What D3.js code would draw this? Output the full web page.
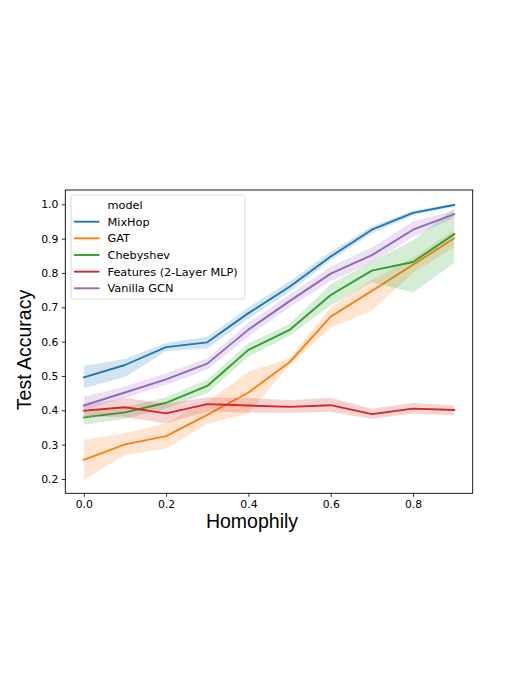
<!DOCTYPE html>
<html><head><meta charset="utf-8">
<script src="https://cdn.jsdelivr.net/npm/d3@7"></script>
<style>body{margin:0;background:#fff;}svg{display:block;}</style>
</head><body>
<svg id="c" width="525" height="680"></svg>
<script>
const homophily = [0.0,0.1,0.2,0.3,0.4,0.5,0.6,0.7,0.8,0.9];
const modelNames = ["MixHop","GAT","Chebyshev","Features (2-Layer MLP)","Vanilla GCN"];
const modelColors = ["#1f77b4","#ff7f0e","#2ca02c","#d62728","#9467bd"];

const mixhopMean = [0.496,0.532,0.584,0.598,0.683,0.760,0.848,0.926,0.975,0.998];
const mixhopLo   = [0.464,0.497,0.572,0.580,0.667,0.745,0.836,0.915,0.967,0.993];
const mixhopHi   = [0.530,0.550,0.597,0.614,0.700,0.776,0.862,0.936,0.982,1.002];

const gatMean = [0.256,0.301,0.325,0.387,0.452,0.540,0.673,0.748,0.824,0.901];
const gatLo   = [0.197,0.270,0.288,0.360,0.390,0.532,0.640,0.690,0.800,0.875];
const gatHi   = [0.314,0.334,0.363,0.425,0.513,0.552,0.700,0.780,0.845,0.925];

const chebMean = [0.379,0.394,0.422,0.471,0.576,0.634,0.736,0.807,0.832,0.913];
const chebLo   = [0.358,0.375,0.405,0.450,0.556,0.617,0.705,0.772,0.743,0.828];
const chebHi   = [0.395,0.410,0.438,0.490,0.595,0.652,0.768,0.833,0.895,0.988];

const mlpMean = [0.399,0.409,0.391,0.418,0.414,0.410,0.415,0.389,0.405,0.401];
const mlpLo   = [0.382,0.380,0.362,0.395,0.393,0.392,0.395,0.375,0.390,0.385];
const mlpHi   = [0.415,0.437,0.420,0.438,0.437,0.430,0.437,0.405,0.422,0.415];

const gcnMean = [0.414,0.452,0.490,0.536,0.635,0.718,0.798,0.852,0.926,0.971];
const gcnLo   = [0.400,0.436,0.474,0.518,0.615,0.700,0.776,0.830,0.905,0.960];
const gcnHi   = [0.440,0.470,0.508,0.552,0.655,0.738,0.818,0.875,0.950,0.982];

const xTicks = [0.0,0.2,0.4,0.6,0.8];
const yTicks = [0.2,0.3,0.4,0.5,0.6,0.7,0.8,0.9,1.0];

const series = [
  {mean:mixhopMean, lo:mixhopLo, hi:mixhopHi},
  {mean:gatMean, lo:gatLo, hi:gatHi},
  {mean:chebMean, lo:chebLo, hi:chebHi},
  {mean:mlpMean, lo:mlpLo, hi:mlpHi},
  {mean:gcnMean, lo:gcnLo, hi:gcnHi}
].map((s,i)=>({...s, name:modelNames[i], color:modelColors[i]}));

const L=65.3, R=472.7, T=190, B=493.3;
const x = d3.scaleLinear().domain([-0.045,0.945]).range([L,R]);
const y = d3.scaleLinear().domain([0.1584,1.0416]).range([B,T]);

const svg = d3.select("#c");
const tickFont = "'DejaVu Sans', sans-serif";

const g = svg.append("g");
series.forEach(s=>{
  const pts = homophily.map((h,i)=>({h, m:s.mean[i], lo:s.lo[i], hi:s.hi[i]}));
  g.append("path").datum(pts)
    .attr("d", d3.area().x(d=>x(d.h)).y0(d=>y(d.lo)).y1(d=>y(d.hi)))
    .attr("fill", s.color).attr("fill-opacity",0.2)
    .attr("stroke","#fff").attr("stroke-opacity",0.6).attr("stroke-width",0.6)
    .attr("stroke-dasharray","2,2");
  g.append("path").datum(pts)
    .attr("d", d3.line().x(d=>x(d.h)).y(d=>y(d.m)))
    .attr("fill","none").attr("stroke", s.color).attr("stroke-width",1.9)
    .attr("stroke-linejoin","round").attr("stroke-linecap","square");
});

// axes
const xAxis = svg.append("g").attr("transform",`translate(0,${B})`)
  .call(d3.axisBottom(x).tickValues(xTicks).tickFormat(d3.format(".1f")).tickSize(3.5).tickPadding(3.5).tickSizeOuter(0));
const yAxis = svg.append("g").attr("transform",`translate(${L},0)`)
  .call(d3.axisLeft(y).tickValues(yTicks).tickFormat(d3.format(".1f")).tickSize(3.5).tickPadding(3.5).tickSizeOuter(0));
[xAxis,yAxis].forEach(a=>{
  a.select(".domain").remove();
  a.selectAll("text").attr("font-family",tickFont).attr("font-size","10.8px").attr("fill","#000");
  a.selectAll("line").attr("stroke","#000").attr("stroke-width",0.8);
});

// frame
svg.append("rect").attr("x",L).attr("y",T).attr("width",R-L).attr("height",B-T)
  .attr("fill","none").attr("stroke","#000").attr("stroke-width",0.9);

// axis labels
const labFont = "'Liberation Sans', Arial, sans-serif";
svg.append("text").attr("x",252).attr("y",528).attr("text-anchor","middle")
  .attr("font-family",labFont).attr("font-size","19.5px").text("Homophily");
svg.append("text").attr("transform",`translate(31,350) rotate(-90)`).attr("text-anchor","middle")
  .attr("font-family",labFont).attr("font-size","19.5px").text("Test Accuracy");

// legend
const lg = svg.append("g");
lg.append("rect").attr("x",71).attr("y",195).attr("width",174).attr("height",104).attr("rx",2.5)
  .attr("fill","#fff").attr("fill-opacity",0.8).attr("stroke","#d0d0d0").attr("stroke-width",0.8);
const legFont = "'DejaVu Sans', sans-serif";
lg.append("text").attr("x",107.5).attr("y",205).attr("dy","0.35em")
  .attr("font-family",legFont).attr("font-size","11.3px").text("model");
series.forEach((s,i)=>{
  const yy = 221.7 + i*16.65;
  lg.append("line").attr("x1",74).attr("x2",99.5).attr("y1",yy).attr("y2",yy)
    .attr("stroke",s.color).attr("stroke-width",1.9);
  lg.append("text").attr("x",107.5).attr("y",yy).attr("dy","0.35em")
    .attr("font-family",legFont).attr("font-size","11.3px").text(s.name);
});
</script>
</body></html>
